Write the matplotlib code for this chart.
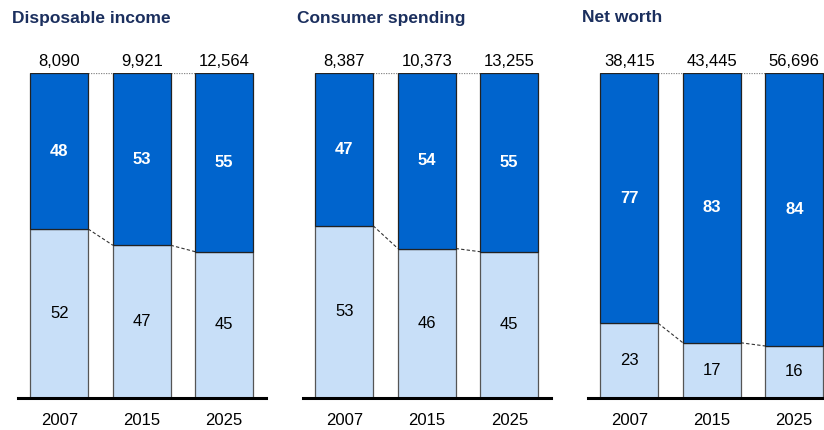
import matplotlib.pyplot as plt

plt.rcParams['font.family'] = ['Liberation Sans', 'DejaVu Sans']

years = ["2007", "2015", "2025"]
titles = ["Disposable income", "Consumer spending", "Net worth"]
totals = [["8,090", "9,921", "12,564"],
          ["8,387", "10,373", "13,255"],
          ["38,415", "43,445", "56,696"]]
lower_share = [[52, 47, 45],
               [53, 46, 45],
               [23, 17, 16]]
upper_share = [[48, 53, 55],
               [47, 54, 55],
               [77, 83, 84]]

dark = "#0064CD"
light = "#C8DFF8"
title_col = "#1B2F5E"

W, H = 824, 430
fig = plt.figure(figsize=(W / 100, H / 100), dpi=100)

lefts = [18, 303, 588]
bw = 0.70

for k in range(3):
    ax = fig.add_axes([lefts[k] / W, 32 / H, 247.5 / W, 325 / H])
    x = range(len(years))
    lo = lower_share[k]
    hi = upper_share[k]
    ax.bar(x, lo, width=bw, color=light, edgecolor="#555555", linewidth=0.9, zorder=2)
    ax.bar(x, hi, width=bw, bottom=lo, color=dark, edgecolor="#222222", linewidth=0.9, zorder=2)

    for i in x:
        ax.text(i, lo[i] / 2, str(lo[i]), ha="center", va="center", fontsize=12, color="black")
        ax.text(i, lo[i] + hi[i] / 2, str(hi[i]), ha="center", va="center",
                fontsize=12, color="white", fontweight="bold")
        ax.text(i, 101.2, totals[k][i], ha="center", va="bottom", fontsize=12, color="black")

    # connectors between neighbouring bars
    for i in range(len(years) - 1):
        x0, x1 = i + bw / 2, i + 1 - bw / 2
        ax.plot([x0, x1], [100, 100], color="#888888", lw=0.9, ls=(0, (1, 1)), zorder=1)
        ax.plot([x0, x1], [lo[i], lo[i + 1]], color="#333333", lw=0.8, ls=(0, (3, 2)), zorder=1)

    ax.set_xlim(-0.5, 2.5)
    ax.set_ylim(0, 100)
    for s in ["top", "left", "right"]:
        ax.spines[s].set_visible(False)
    ax.spines["bottom"].set_linewidth(2.2)
    ax.spines["bottom"].set_zorder(3)
    ax.set_yticks([])
    ax.set_xticks(list(x))
    ax.set_xticklabels(years, fontsize=12)
    ax.tick_params(axis="x", length=0, pad=11)
    ax.patch.set_alpha(0)

    fig.text((lefts[k] - 6) / W, 1 - 18 / H, titles[k], fontsize=12.5, fontweight="bold",
             color=title_col, ha="left", va="center")

fig.savefig("out.png", dpi=100)
